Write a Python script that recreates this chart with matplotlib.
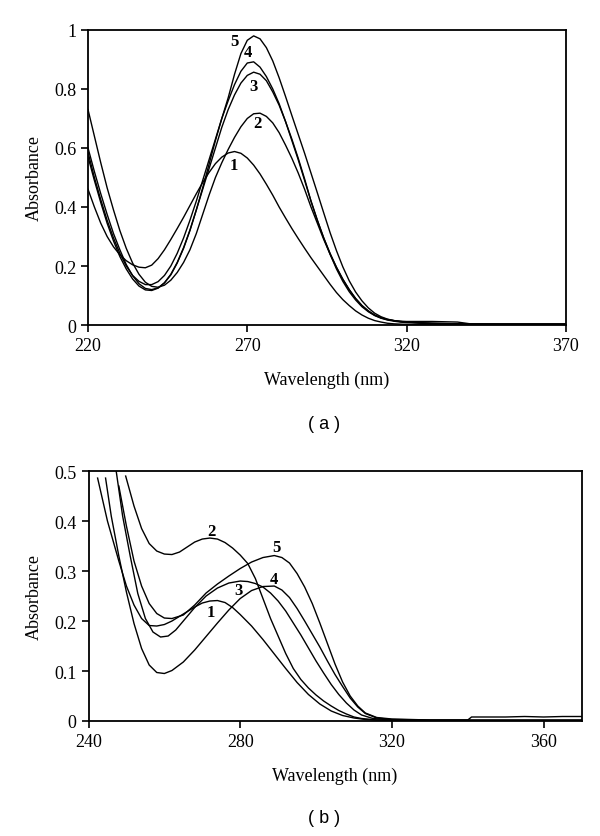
import numpy as np
import matplotlib as mpl
import matplotlib.pyplot as plt

mpl.rcParams.update({'font.family': 'serif',
                     'font.serif': ['Liberation Serif', 'DejaVu Serif'],
                     'axes.unicode_minus': False})

# ---- panel (a) ----
wl_a = [220, 222, 224, 226, 228, 230, 232, 234, 236, 238, 240, 242, 244, 246,
        248, 250, 252, 254, 256, 258, 260, 262, 264, 266, 268, 270, 272, 274,
        276, 278, 280, 282, 284, 286, 288, 290, 292, 294, 296, 298, 300, 302,
        304, 306, 308, 310, 312, 314, 316, 318, 320, 324, 328, 332, 336, 340,
        350, 360, 370]

abs_a1 = [0.46, 0.40, 0.345, 0.30, 0.265, 0.238, 0.218, 0.204, 0.196, 0.194,
          0.203, 0.225, 0.255, 0.29, 0.327, 0.365, 0.405, 0.445, 0.483, 0.517,
          0.547, 0.569, 0.583, 0.588, 0.582, 0.566, 0.542, 0.512, 0.477, 0.44,
          0.40, 0.363, 0.327, 0.293, 0.26, 0.228, 0.198, 0.168, 0.138, 0.11,
          0.086, 0.066, 0.048, 0.034, 0.023, 0.015, 0.01, 0.006, 0.004, 0.003,
          0.002, 0.001, 0.001, 0.001, 0.001, 0.001, 0.001, 0.001, 0.001]
abs_a2 = [0.73, 0.64, 0.55, 0.465, 0.39, 0.32, 0.26, 0.21, 0.172, 0.145,
          0.131, 0.128, 0.135, 0.152, 0.178, 0.212, 0.255, 0.31, 0.375, 0.44,
          0.50, 0.55, 0.595, 0.636, 0.672, 0.70, 0.716, 0.718, 0.707, 0.685,
          0.652, 0.61, 0.565, 0.515, 0.46, 0.40, 0.345, 0.29, 0.24, 0.195,
          0.155, 0.12, 0.09, 0.066, 0.047, 0.033, 0.024, 0.018, 0.015, 0.013,
          0.012, 0.012, 0.012, 0.011, 0.01, 0.004, 0.003, 0.003, 0.003]
abs_a3 = [0.60, 0.52, 0.445, 0.375, 0.31, 0.255, 0.205, 0.167, 0.14, 0.124,
          0.12, 0.126, 0.143, 0.17, 0.21, 0.26, 0.32, 0.39, 0.46, 0.53,
          0.60, 0.67, 0.73, 0.78, 0.82, 0.846, 0.857, 0.85, 0.828, 0.79,
          0.745, 0.69, 0.63, 0.565, 0.495, 0.42, 0.355, 0.295, 0.243, 0.196,
          0.155, 0.12, 0.09, 0.066, 0.048, 0.034, 0.025, 0.019, 0.015, 0.012,
          0.01, 0.008, 0.006, 0.005, 0.004, 0.003, 0.003, 0.003, 0.003]
abs_a4 = [0.585, 0.50, 0.425, 0.355, 0.295, 0.243, 0.20, 0.168, 0.148, 0.137,
          0.137, 0.147, 0.168, 0.20, 0.243, 0.295, 0.355, 0.42, 0.49, 0.56,
          0.63, 0.70, 0.76, 0.815, 0.86, 0.888, 0.892, 0.874, 0.842, 0.80,
          0.75, 0.69, 0.625, 0.56, 0.49, 0.42, 0.355, 0.295, 0.24, 0.19,
          0.148, 0.113, 0.085, 0.062, 0.045, 0.032, 0.023, 0.017, 0.013, 0.01,
          0.008, 0.006, 0.005, 0.004, 0.004, 0.003, 0.003, 0.003, 0.003]
abs_a5 = [0.57, 0.49, 0.415, 0.345, 0.285, 0.232, 0.19, 0.156, 0.132, 0.119,
          0.117, 0.125, 0.143, 0.172, 0.212, 0.262, 0.322, 0.39, 0.465, 0.545,
          0.625, 0.70, 0.77, 0.85, 0.92, 0.965, 0.98, 0.97, 0.94, 0.895,
          0.838, 0.775, 0.71, 0.646, 0.582, 0.515, 0.448, 0.38, 0.313, 0.252,
          0.197, 0.15, 0.112, 0.082, 0.058, 0.04, 0.028, 0.02, 0.015, 0.012,
          0.01, 0.008, 0.006, 0.005, 0.004, 0.003, 0.003, 0.003, 0.003]

labels_a = ['1', '2', '3', '4', '5']
label_pos_a = [(265.9, 0.542), (273.2, 0.685), (272.1, 0.809),
               (270.3, 0.924), (266.1, 0.964)]

# ---- panel (b) ----
wl_b1 = [242.4, 245, 248, 250, 252, 254, 256, 258, 260, 262, 265, 268, 270,
         272, 274, 276, 278, 280, 283, 286, 289, 292, 295, 298, 301, 304, 307,
         310, 313, 316, 320, 330, 340, 370]
abs_b1 = [0.486, 0.40, 0.32, 0.27, 0.232, 0.205, 0.191, 0.19, 0.193, 0.2,
          0.214, 0.228, 0.236, 0.24, 0.241, 0.237, 0.227, 0.213, 0.19, 0.163,
          0.134, 0.105, 0.077, 0.053, 0.034, 0.02, 0.011, 0.006, 0.003,
          0.002, 0.001, 0.001, 0.001, 0.001]

wl_b2 = [249.8, 252, 254, 256, 258, 260, 262, 264, 266, 268, 270, 272, 274,
         276, 278, 280, 282, 284, 286, 288, 290, 292, 294, 296, 298, 300, 302,
         304, 306, 308, 310, 312, 316, 320, 330, 370]
abs_b2 = [0.49, 0.43, 0.385, 0.355, 0.34, 0.334, 0.333, 0.338, 0.348, 0.358,
          0.364, 0.366, 0.364, 0.357, 0.346, 0.332, 0.315, 0.285, 0.245,
          0.205, 0.17, 0.135, 0.105, 0.083, 0.066, 0.052, 0.04, 0.03, 0.021,
          0.014, 0.008, 0.005, 0.002, 0.002, 0.001, 0.001]

wl_b3 = [247.3, 249, 251, 253, 255, 257, 259, 261, 263, 265, 268, 271, 274,
         277, 280, 282, 284, 286, 288, 290, 292, 294, 296, 298, 300, 302, 304,
         306, 308, 310, 312, 315, 320, 330, 370]
abs_b3 = [0.50, 0.41, 0.33, 0.255, 0.205, 0.178, 0.168, 0.17, 0.182, 0.2,
          0.227, 0.25, 0.266, 0.276, 0.28, 0.279, 0.275, 0.268, 0.256, 0.24,
          0.22, 0.196, 0.172, 0.146, 0.12, 0.096, 0.073, 0.053, 0.036, 0.022,
          0.012, 0.005, 0.002, 0.001, 0.001]

wl_b4 = [244.5, 246, 248, 250, 252, 254, 256, 258, 260, 262, 265, 268, 271,
         274, 277, 280, 283, 286, 289, 291, 293, 295, 297, 299, 301, 303, 305,
         307, 309, 311, 313, 316, 320, 330, 370]
abs_b4 = [0.486, 0.41, 0.33, 0.258, 0.195, 0.145, 0.112, 0.097, 0.095, 0.101,
          0.118, 0.142, 0.169, 0.196, 0.222, 0.245, 0.261, 0.269, 0.27, 0.262,
          0.247, 0.225, 0.2, 0.174, 0.148, 0.12, 0.093, 0.069, 0.046, 0.028,
          0.015, 0.006, 0.003, 0.002, 0.002]

wl_b5 = [248, 250, 252, 254, 256, 258, 260, 262, 265, 268, 271, 274, 277,
         280, 283, 286, 289, 291, 293, 295, 297, 299, 301, 303, 305, 307, 309,
         311, 313, 316, 320, 330, 340, 341, 345, 350, 355, 360, 365, 370]
abs_b5 = [0.47, 0.39, 0.32, 0.27, 0.235, 0.215, 0.206, 0.205, 0.212, 0.232,
          0.256, 0.274, 0.29, 0.305, 0.318, 0.327, 0.331, 0.327, 0.316, 0.295,
          0.268, 0.235, 0.196, 0.155, 0.114, 0.078, 0.05, 0.03, 0.016, 0.007,
          0.004, 0.002, 0.002, 0.008, 0.008, 0.008, 0.009, 0.008, 0.009,
          0.009]

labels_b = ['1', '2', '3', '4', '5']
label_pos_b = [(272.3, 0.218), (272.3, 0.38), (279.5, 0.262),
               (288.9, 0.285), (289.5, 0.349)]


def style_axes(ax, xlim, ylim, xticks, yticks):
    ax.set_xlim(*xlim)
    ax.set_ylim(*ylim)
    ax.set_xticks(xticks)
    ax.set_yticks(yticks)
    ax.set_yticklabels(["{:g}".format(v) for v in yticks])
    ax.tick_params(axis='both', direction='out', length=5, width=1.2,
                   labelsize=13, top=False, right=False)
    [s.set_linewidth(1.3) for s in ax.spines.values()]
    ax.set_xlabel("Wavelength (nm)", size=13, labelpad=12)
    ax.set_ylabel("Absorbance", size=13, labelpad=8)


fig = plt.figure(figsize=(6, 8.37), dpi=100)

ax1 = fig.add_axes([0.1467, 0.6105, 0.7963, 0.3525])
for y in [abs_a1, abs_a2, abs_a3, abs_a4, abs_a5]:
    ax1.plot(wl_a, y, color='black', linewidth=1.0)
for lab, (x, y) in zip(labels_a, label_pos_a):
    ax1.text(x, y, lab, ha='center', va='center', fontsize=12,
             fontweight='bold')
style_axes(ax1, (220, 370), (0, 1), [220, 270, 320, 370],
           [0, 0.2, 0.4, 0.6, 0.8, 1])

ax2 = fig.add_axes([0.1475, 0.1374, 0.8217, 0.2986])
for x, y in [(wl_b1, abs_b1), (wl_b2, abs_b2), (wl_b3, abs_b3),
             (wl_b4, abs_b4), (wl_b5, abs_b5)]:
    ax2.plot(x, y, color='black', linewidth=1.0)
for lab, (x, y) in zip(labels_b, label_pos_b):
    ax2.text(x, y, lab, ha='center', va='center', fontsize=12,
             fontweight='bold')
style_axes(ax2, (240, 370), (0, 0.5), [240, 280, 320, 360],
           [0, 0.1, 0.2, 0.3, 0.4, 0.5])

fig.text(0.54, 0.4934, "( a )", ha='center', va='center', fontsize=13,
         family='Liberation Sans')
fig.text(0.54, 0.0227, "( b )", ha='center', va='center', fontsize=13,
         family='Liberation Sans')

plt.savefig("out.png", dpi=100)
plt.close()
